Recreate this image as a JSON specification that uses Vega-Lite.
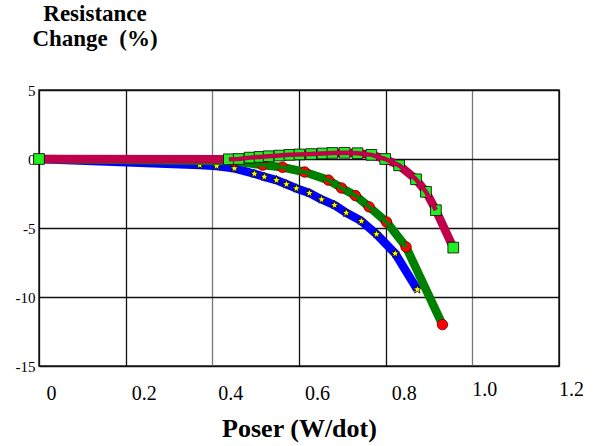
{
  "$schema": "https://vega.github.io/schema/vega-lite/v6.json",
  "width": 520,
  "height": 276,
  "autosize": {"type": "none"},
  "padding": {"left": 39, "top": 90, "right": 37, "bottom": 80},
  "background": "white",
  "config": {
    "view": {"stroke": "#222", "strokeWidth": 1.5},
    "font": "Liberation Serif"
  },
  "title": {
    "text": ["Resistance", "Change\u00a0\u00a0(%)"],
    "anchor": "start",
    "align": "center",
    "dx": 80,
    "font": "Liberation Serif",
    "fontSize": 23,
    "fontWeight": "bold",
    "color": "#000",
    "lineHeight": 25,
    "offset": 14,
    "baseline": "alphabetic"
  },
  "data": {
    "values": [
      {"series": "B", "x": 0, "y": 0},
      {"series": "B", "x": 0.371, "y": -0.44},
      {"series": "B", "x": 0.41, "y": -0.51},
      {"series": "B", "x": 0.451, "y": -0.68},
      {"series": "B", "x": 0.497, "y": -1.07},
      {"series": "B", "x": 0.52, "y": -1.29},
      {"series": "B", "x": 0.548, "y": -1.53},
      {"series": "B", "x": 0.571, "y": -1.83},
      {"series": "B", "x": 0.594, "y": -2.13},
      {"series": "B", "x": 0.624, "y": -2.47},
      {"series": "B", "x": 0.652, "y": -2.93},
      {"series": "B", "x": 0.682, "y": -3.34},
      {"series": "B", "x": 0.709, "y": -3.9},
      {"series": "B", "x": 0.744, "y": -4.5},
      {"series": "B", "x": 0.779, "y": -5.45},
      {"series": "B", "x": 0.822, "y": -6.85},
      {"series": "B", "x": 0.873, "y": -9.45},
      {"series": "G", "x": 0, "y": 0},
      {"series": "G", "x": 0.45, "y": -0.15},
      {"series": "G", "x": 0.516, "y": -0.44},
      {"series": "G", "x": 0.562, "y": -0.6},
      {"series": "G", "x": 0.613, "y": -0.94},
      {"series": "G", "x": 0.668, "y": -1.53},
      {"series": "G", "x": 0.698, "y": -2.1},
      {"series": "G", "x": 0.73, "y": -2.65},
      {"series": "G", "x": 0.762, "y": -3.47},
      {"series": "G", "x": 0.802, "y": -4.56},
      {"series": "G", "x": 0.847, "y": -6.37},
      {"series": "G", "x": 0.931, "y": -12.0},
      {"series": "R", "x": 0, "y": 0},
      {"series": "R", "x": 0.438, "y": -0.02},
      {"series": "R", "x": 0.461, "y": 0.0},
      {"series": "R", "x": 0.486, "y": 0.1},
      {"series": "R", "x": 0.509, "y": 0.15},
      {"series": "R", "x": 0.53, "y": 0.2},
      {"series": "R", "x": 0.555, "y": 0.25},
      {"series": "R", "x": 0.578, "y": 0.3},
      {"series": "R", "x": 0.601, "y": 0.33},
      {"series": "R", "x": 0.628, "y": 0.36},
      {"series": "R", "x": 0.654, "y": 0.4},
      {"series": "R", "x": 0.677, "y": 0.44},
      {"series": "R", "x": 0.705, "y": 0.45},
      {"series": "R", "x": 0.735, "y": 0.42},
      {"series": "R", "x": 0.767, "y": 0.3},
      {"series": "R", "x": 0.799, "y": 0.0},
      {"series": "R", "x": 0.831, "y": -0.46},
      {"series": "R", "x": 0.87, "y": -1.47},
      {"series": "R", "x": 0.893, "y": -2.38},
      {"series": "R", "x": 0.916, "y": -3.71},
      {"series": "R", "x": 0.956, "y": -6.42}
    ]
  },
  "encoding": {
    "x": {
      "field": "x",
      "type": "quantitative",
      "scale": {"domain": [0, 1.2], "nice": false, "zero": false},
      "axis": {
        "values": [0, 0.2, 0.4, 0.6, 0.8, 1.0, 1.2],
        "labelExpr": "datum.value == 0 ? '0' : format(datum.value, '.1f')",
        "title": "Poser (W/dot)",
        "titleFont": "Liberation Serif",
        "titleFontSize": 26,
        "titleFontWeight": "bold",
        "titleColor": "#000",
        "titlePadding": 12,
        "labelFont": "Liberation Serif",
        "labelFontSize": 20,
        "labelColor": "#000",
        "labelPadding": {"condition": {"test": "datum.value >= 1", "value": 13}, "value": 17},
        "labelOffset": {"condition": {"test": "datum.value == 0 || datum.value >= 1", "value": 12}, "value": 18},
        "labelFlush": false,
        "labelOverlap": false,
        "ticks": false,
        "domain": false,
        "grid": true,
        "gridColor": {"condition": {"test": "datum.value == 0.4 || datum.value == 1", "value": "#777"}, "value": "#111"},
        "gridWidth": 1.3,
        "gridOpacity": 1
      }
    },
    "y": {
      "field": "y",
      "type": "quantitative",
      "scale": {"domain": [-15, 5], "nice": false, "zero": false},
      "axis": {
        "values": [-15, -10, -5, 0, 5],
        "labelExpr": "toString(datum.value)",
        "title": null,
        "labelFont": "Liberation Serif",
        "labelFontSize": 15,
        "labelColor": "#000",
        "labelPadding": 4,
        "labelFlush": false,
        "labelOverlap": false,
        "ticks": false,
        "domain": false,
        "grid": true,
        "gridColor": "#111",
        "gridWidth": 1.3,
        "gridOpacity": 1
      }
    }
  },
  "layer": [
    {
      "transform": [{"filter": "datum.series == 'B'"}],
      "mark": {"type": "line", "color": "#0000FF", "strokeWidth": 8.5, "strokeJoin": "round"}
    },
    {
      "transform": [{"filter": "datum.series == 'B' && datum.x > 0"}],
      "mark": {"type": "point", "filled": true, "shape": "M0,-1L0.24,-0.31L0.95,-0.31L0.38,0.12L0.59,0.81L0,0.4L-0.59,0.81L-0.38,0.12L-0.95,-0.31L-0.24,-0.31Z", "size": 85, "fill": "#FFFF00", "stroke": "#000", "strokeWidth": 0.8, "opacity": 1}
    },
    {
      "transform": [{"filter": "datum.series == 'G'"}],
      "mark": {"type": "line", "color": "#008000", "strokeWidth": 8.5, "strokeJoin": "round"}
    },
    {
      "transform": [{"filter": "datum.series == 'G' && datum.x > 0"}],
      "mark": {"type": "point", "filled": true, "shape": "circle", "size": 110, "fill": "#FF0000", "stroke": "#600", "strokeWidth": 0.8, "opacity": 1}
    },
    {
      "transform": [{"filter": "datum.series == 'G' && datum.x < 0.9"}],
      "mark": {"type": "line", "color": "#008000", "strokeWidth": 4, "strokeJoin": "round"}
    },
    {
      "transform": [{"filter": "datum.series == 'R'"}],
      "mark": {"type": "line", "color": "#C0004B", "strokeWidth": 8.5, "strokeJoin": "round"}
    },
    {
      "transform": [{"filter": "datum.series == 'R'"}],
      "mark": {"type": "point", "filled": true, "shape": "square", "size": 115, "fill": "#22EE22", "stroke": "#000", "strokeWidth": 0.8, "opacity": 1}
    },
    {
      "transform": [{"filter": "datum.series == 'R' && datum.x > 0 && datum.x < 0.93"}],
      "mark": {"type": "line", "color": "#C0004B", "strokeWidth": 4.5, "strokeJoin": "round"}
    }
  ]
}
